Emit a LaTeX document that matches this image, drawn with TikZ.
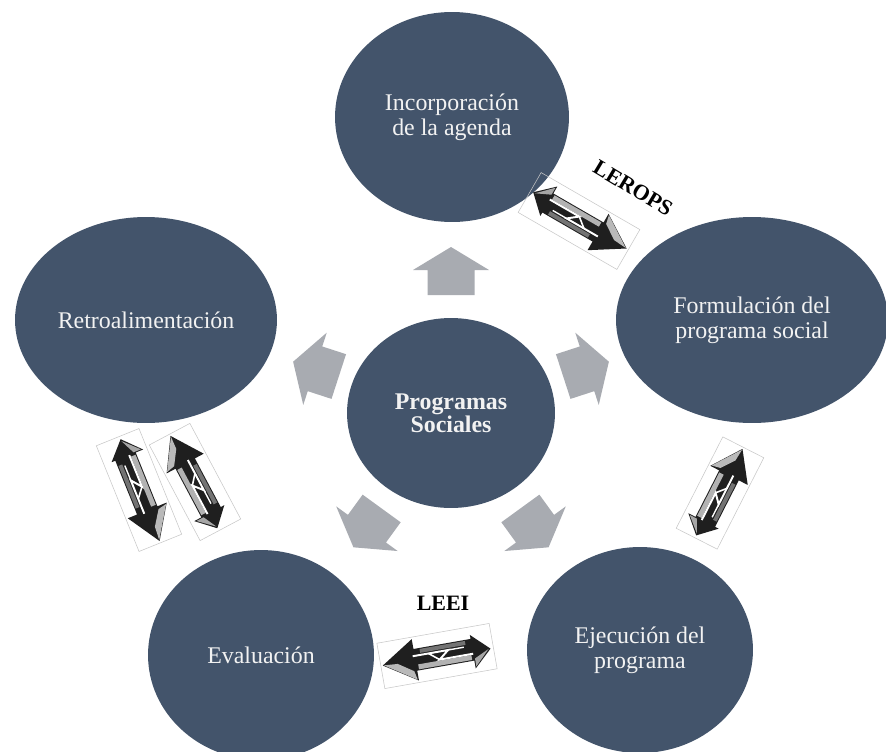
\documentclass[tikz,border=0pt]{standalone}
\usepackage{fontspec}
\setmainfont{Liberation Serif}
\usetikzlibrary{shapes.geometric,calc}
\definecolor{slate}{RGB}{67,84,107}
\definecolor{pale}{RGB}{168,171,177}
\definecolor{ink}{RGB}{242,242,242}
\begin{document}
\begin{tikzpicture}[x=0.02cm,y=0.02cm,
  stage/.style={ellipse, fill=slate, inner sep=0pt, text=ink, align=center,
    font=\fontsize{13.6}{14.2}\selectfont},
  tag/.style={font=\bfseries\fontsize{12.5}{14}\selectfont, text=black, inner sep=0pt},
  % short grey block arrow pointing along local +x
  outarrow/.pic={
    \fill[pale] (-24,-23.5) -- (1,-23.5) -- (1,-38) -- (24,0) -- (1,38)
      -- (1,23.5) -- (-24,23.5) -- cycle;
  },
  % dark two-way exchange arrow in a thin frame, main head along local +x
  swaparrow/.pic={
    \draw[black!22, line width=0.3pt] (-57,-23) rectangle (57,23);
    % dark body with a large head at +x and a small one at -x
    \fill[black!88] (-54,2) -- (-36,19) -- (-36,11) -- (22,11) -- (22,21)
      -- (55,0) -- (22,-21) -- (22,-11) -- (-36,-11) -- (-36,-15) -- cycle;
    % grey highlights giving the bevelled look
    \fill[gray!60] (-34,10) -- (20,10) -- (20,5) -- (-34,5) -- cycle;
    \fill[gray!55] (23,20) -- (54,0) -- (40,1) -- (25,11) -- cycle;
    \fill[gray!70] (-52,2) -- (-37,17) -- (-37,9) -- cycle;
    \fill[black!55] (-30,-10) -- (16,-10) -- (16,-6) -- (-30,-6) -- cycle;
    % white split lines
    \draw[white, line width=1.1pt, line join=miter]
      (-36,4) -- (-2,4) -- (-12,-4) -- (24,-4);
    \draw[white, line width=0.9pt] (-2,4) -- (8,-4);
    \draw[white, line width=0.8pt] (-28,-4) -- (-12,-4);
  }
]
\fill[white] (0,-751) rectangle (886,0);
\useasboundingbox (0,-751) rectangle (886,0);

% stages of the cycle
\node[stage, minimum width=4.68cm, minimum height=4.2cm] (agenda) at (452,-117)
  {Incorporación\\de la agenda};
\node[stage, minimum width=5.44cm, minimum height=4.12cm] (formul) at (752,-320)
  {Formulación del\\programa social};
\node[stage, minimum width=4.52cm, minimum height=4.12cm] (ejec) at (640,-650)
  {Ejecución del\\programa};
\node[stage, minimum width=4.52cm, minimum height=4.2cm] (eval) at (261,-655)
  {Evaluación};
\node[stage, minimum width=5.24cm, minimum height=4.12cm] (retro) at (146,-320)
  {Retroalimentación};
\node[stage, minimum width=4.16cm, minimum height=3.8cm,
  font=\bfseries\fontsize{13.6}{13.2}\selectfont] (hub) at (451,-413)
  {Programas\\Sociales};

% grey arrows from the hub towards each stage
\foreach \ang in {90,162,234,306,18}
  \pic[rotate=\ang] at ($(hub)+(\ang:142)$) {outarrow};

% exchange arrows between neighbouring stages
\pic[rotate=-30] at (579,-221) {swaparrow};
\node[tag, rotate=-31] (lerops) at (633,-188) {LEROPS};

\pic[rotate=63, xscale=0.9] at (720,-493) {swaparrow};

\pic[rotate=190] at (437,-656) {swaparrow};
\node[tag] (leei) at (443,-603) {LEEI};

\pic[rotate=-68] at (139,-490) {swaparrow};
\pic[rotate=118, xscale=0.95] at (195,-482) {swaparrow};
\end{tikzpicture}
\end{document}
